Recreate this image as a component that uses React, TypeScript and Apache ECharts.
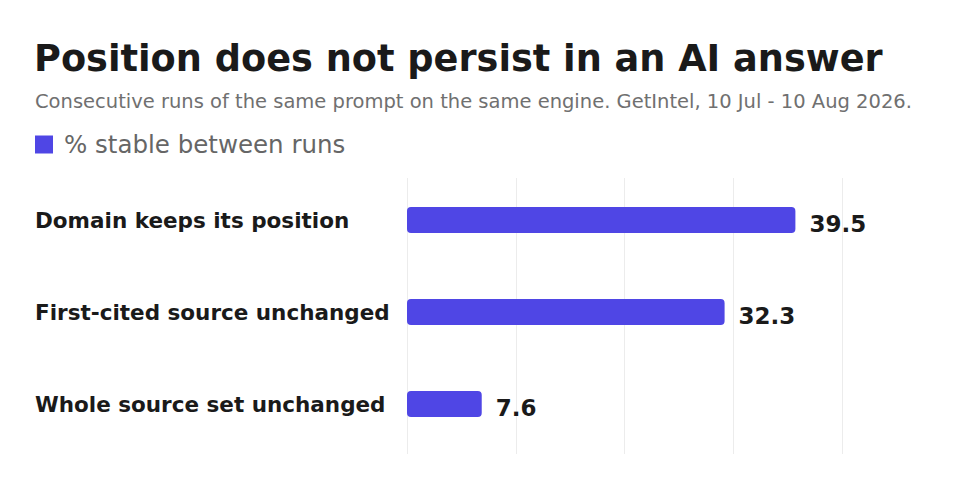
import { useEffect, useRef } from 'react';
import * as echarts from 'echarts';

const categories = [
  'Domain keeps its position',
  'First-cited source unchanged',
  'Whole source set unchanged',
];
const values = [39.5, 32.3, 7.6];
const seriesName = '% stable between runs';
const titleText = 'Position does not persist in an AI answer';
const subtitleText =
  'Consecutive runs of the same prompt on the same engine. GetIntel, 10 Jul - 10 Aug 2026.';

const FONT = 'DejaVu Sans';
const BAR = '#4F46E5';
const INK = '#1a1a1a';

export default function App() {
  const chartRef = useRef<HTMLDivElement>(null);

  useEffect(() => {
    if (!chartRef.current) return;
    const chart = echarts.init(chartRef.current, null, { renderer: 'svg' });

    const axisMax = 44.24;
    const step = axisMax / 4;
    const hidden = { show: false };

    chart.setOption({
      animation: false,
      backgroundColor: '#fff',
      textStyle: { fontFamily: FONT },
      title: [
        {
          text: titleText,
          left: 29,
          top: 35,
          textStyle: { fontFamily: FONT, fontSize: 36.7, fontWeight: 700, color: INK },
        },
        {
          text: subtitleText,
          left: 30,
          top: 86,
          textStyle: { fontFamily: FONT, fontSize: 19.5, fontWeight: 400, color: '#707070' },
        },
      ],
      legend: {
        left: 35,
        top: 132,
        padding: 0,
        icon: 'rect',
        itemWidth: 18,
        itemHeight: 18,
        textStyle: {
          fontFamily: FONT,
          fontSize: 24.5,
          color: '#666',
          padding: [0, 0, 0, 6],
        },
        data: [seriesName],
      },
      // bars sit a little above the centre of the gridline area
      grid: [
        { left: 407, right: 118, top: 174, bottom: 46 },
        { left: 407, right: 118, top: 178, bottom: 42 },
      ],
      xAxis: [
        {
          gridIndex: 0,
          type: 'value',
          min: 0,
          max: axisMax,
          interval: step,
          axisLabel: hidden,
          axisLine: hidden,
          axisTick: hidden,
          splitLine: hidden,
        },
        {
          gridIndex: 1,
          type: 'value',
          min: 0,
          max: axisMax,
          interval: step,
          axisLabel: hidden,
          axisLine: hidden,
          axisTick: hidden,
          splitLine: { lineStyle: { color: '#ececec', width: 1 } },
        },
      ],
      yAxis: [
        {
          gridIndex: 0,
          type: 'category',
          inverse: true,
          data: categories,
          axisLine: hidden,
          axisTick: hidden,
          axisLabel: {
            align: 'left',
            margin: 372,
            padding: [5, 0, 0, 0],
            fontFamily: FONT,
            fontSize: 21.5,
            fontWeight: 700,
            color: INK,
          },
        },
        {
          gridIndex: 1,
          type: 'category',
          data: categories,
          show: false,
        },
      ],
      series: [
        {
          name: seriesName,
          type: 'bar',
          xAxisIndex: 0,
          yAxisIndex: 0,
          data: values,
          barWidth: 26,
          itemStyle: { color: BAR, borderRadius: 4 },
          label: {
            show: true,
            position: 'right',
            distance: 14,
            offset: [0, 3.5],
            fontFamily: FONT,
            fontSize: 23,
            fontWeight: 700,
            color: INK,
          },
        },
      ],
    });

    return () => chart.dispose();
  }, []);

  return (
    <div
      ref={chartRef}
      style={{ position: 'absolute', left: 0, top: 0, width: 960, height: 496 }}
    />
  );
}
